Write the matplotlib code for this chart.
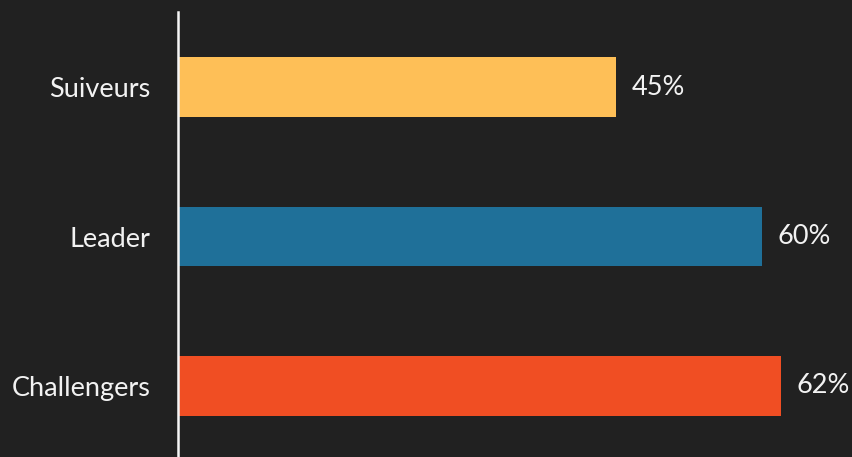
import matplotlib.pyplot as plt

categories = ['Challengers', 'Leader', 'Suiveurs']
values = [62, 60, 45]
colors = ['#F04E23', '#1F7099', '#FEBF57']

plt.rcParams['font.family'] = ['Lato', 'DejaVu Sans']

fig = plt.figure(figsize=(8.53, 4.57), dpi=100)
fig.patch.set_facecolor('#212121')
ax = fig.add_axes([178 / 853, 0, 1 - 178 / 853, 445 / 457])
ax.set_facecolor('#212121')

ypos = list(range(len(categories)))
bars = ax.barh(ypos, values, height=0.4, color=colors)

for y, v in zip(ypos, values):
    ax.text(v + 1.6, y, f'{v}%', va='center', ha='left', color='#F2F2F2', fontsize=19.5)

ax.set_yticks(ypos)
ax.set_yticklabels(categories, color='#F2F2F2', fontsize=19.5)
ax.tick_params(axis='y', length=0, pad=20)
ax.set_xticks([])
ax.set_xlim(0, 69.4)
ax.set_ylim(-0.475, 2.502)

for s in ['top', 'right', 'bottom']:
    ax.spines[s].set_visible(False)
ax.spines['left'].set_color('#F5F5F5')
ax.spines['left'].set_linewidth(1.8)

fig.savefig('out.png', dpi=100, facecolor=fig.get_facecolor())
